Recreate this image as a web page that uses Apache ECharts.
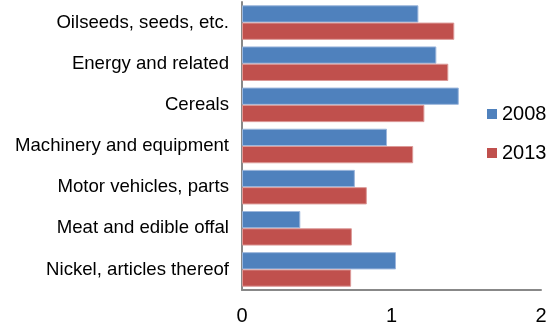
<!DOCTYPE html>
<html>
<head>
<meta charset="utf-8">
<script src="https://cdn.jsdelivr.net/npm/echarts@6/dist/echarts.min.js"></script>
<style>
  html, body { margin: 0; padding: 0; background: #fff; }
  #chart { width: 559px; height: 329px; }
</style>
</head>
<body>
<div id="chart"></div>
<script>
// Product groups, listed top to bottom
const categories = [
  'Oilseeds, seeds, etc.',
  'Energy and related',
  'Cereals',
  'Machinery and equipment',
  'Motor vehicles, parts',
  'Meat and edible offal',
  'Nickel, articles thereof'
];
const values2008 = [1.18, 1.30, 1.45, 0.97, 0.755, 0.39, 1.03];
const values2013 = [1.42, 1.38, 1.22, 1.145, 0.835, 0.735, 0.73];
const xTicks = [0, 1, 2];

const font = '"Liberation Sans", Arial, sans-serif';
const chart = echarts.init(document.getElementById('chart'));

chart.setOption({
  animation: false,
  textStyle: { fontFamily: font },
  grid: { left: 242, right: 18, top: 2, bottom: 39, containLabel: false },
  legend: {
    orient: 'vertical',
    left: 487,
    top: 104,
    padding: 0,
    itemWidth: 10,
    itemHeight: 10,
    itemGap: 19,
    icon: 'rect',
    itemStyle: { borderWidth: 0 },
    textStyle: { fontSize: 20, color: '#000', fontFamily: font },
    data: ['2008', '2013']
  },
  xAxis: {
    type: 'value',
    min: xTicks[0],
    max: xTicks[xTicks.length - 1],
    interval: 1,
    axisLine: { show: true, lineStyle: { color: '#888', width: 2 } },
    axisTick: { show: false },
    splitLine: { show: false },
    axisLabel: { fontSize: 20, color: '#000', margin: 16, fontFamily: font }
  },
  yAxis: {
    type: 'category',
    inverse: true,
    data: categories,
    axisLine: { show: true, lineStyle: { color: '#888', width: 2 } },
    axisTick: { show: false },
    axisLabel: { fontSize: 18.6, color: '#000', margin: 13, padding: [4, 0, 0, 0], fontFamily: font }
  },
  series: [
    {
      name: '2008',
      type: 'bar',
      data: values2008,
      barGap: '0%',
      barCategoryGap: '16%',
      itemStyle: { color: '#4F81BD', borderColor: '#9db7dc', borderWidth: 1 }
    },
    {
      name: '2013',
      type: 'bar',
      data: values2013,
      barGap: '0%',
      barCategoryGap: '16%',
      itemStyle: { color: '#C0504D', borderColor: '#dc9a98', borderWidth: 1 }
    }
  ]
});
</script>
</body>
</html>
